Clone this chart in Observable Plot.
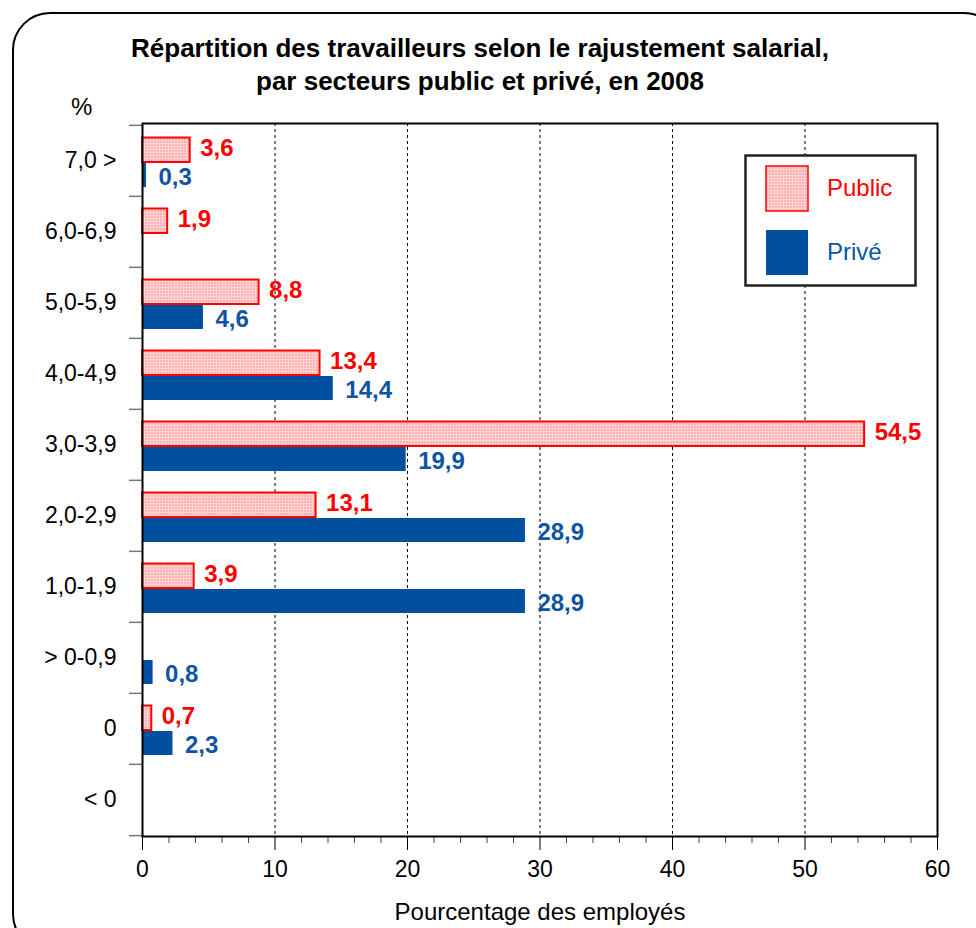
<!DOCTYPE html>
<html><head><meta charset="utf-8">
<script src="https://cdn.jsdelivr.net/npm/d3@7"></script>
<script src="https://cdn.jsdelivr.net/npm/@observablehq/plot@0.6"></script>
<style>
body{margin:0;background:#fff;font-family:"Liberation Sans",Arial,sans-serif;}
#wrap{position:relative;width:976px;height:928px;overflow:hidden;background:#fff;}
#header{position:relative;height:116px;}
#title{position:absolute;left:0;width:960px;top:32px;text-align:center;font-weight:bold;font-size:26px;line-height:33px;color:#000;}
#pct{position:absolute;left:71px;top:93px;font-size:24px;color:#000;}
#border{position:absolute;left:12px;top:12px;width:990px;height:940px;border:2px solid #000;border-radius:38px;pointer-events:none;box-sizing:border-box;}
#legend{position:absolute;left:744px;top:154px;}
#chart svg{display:block;}
</style>
</head><body>
<div id="wrap">
  <div id="header"><div id="title"></div><div id="pct"></div></div>
  <div id="chart"></div>
  <div id="legend"></div>
  <div id="border"></div>
</div>
<script>
const titleLines = ["Répartition des travailleurs selon le rajustement salarial,", "par secteurs public et privé, en 2008"];
const yUnit = "%";
const xLabel = "Pourcentage des employés";
const categories = ["7,0 >", "6,0-6,9", "5,0-5,9", "4,0-4,9", "3,0-3,9", "2,0-2,9", "1,0-1,9", "> 0-0,9", "0", "< 0"];
const publicValues = [3.6, 1.9, 8.8, 13.4, 54.5, 13.1, 3.9, null, 0.7, null];
const priveValues = [0.3, null, 4.6, 14.4, 19.9, 28.9, 28.9, 0.8, 2.3, null];
const seriesNames = ["Public", "Privé"];
const xTicks = [0, 10, 20, 30, 40, 50, 60];
const xMinorTicks = [2, 4, 6, 8, 12, 14, 16, 18, 22, 24, 26, 28, 32, 34, 36, 38, 42, 44, 46, 48, 52, 54, 56, 58];
const gridTicks = [10, 20, 30, 40, 50];

const RED = "#ff0000";
const BLUE = "#00509f";
const BLUE_TEXT = "#0d55a3";
const PUB_FILL = "url(#pubPat)";

document.getElementById("title").innerHTML = titleLines.join("<br>");
document.getElementById("pct").textContent = yUnit;

const fmt = v => String(v).replace(".", ",");
const publicData = categories.map((c, i) => ({cat: c, value: publicValues[i]})).filter(d => d.value != null);
const priveData = categories.map((c, i) => ({cat: c, value: priveValues[i]})).filter(d => d.value != null);

const W = 976, H = 812, mT = 7, mB = 92, mL = 142, mR = 39;
const band = (H - mT - mB) / categories.length;

const svg = Plot.plot({
  width: W, height: H,
  marginTop: mT, marginBottom: mB, marginLeft: mL, marginRight: mR,
  style: {background: "transparent", color: "#000", fontFamily: "Liberation Sans, Arial, sans-serif"},
  x: {domain: [0, 60]},
  y: {domain: categories, padding: 0},
  marks: [
    Plot.ruleX(gridTicks, {stroke: "#000", strokeWidth: 1, strokeDasharray: "3,3"}),
    Plot.barX(publicData, {x: "value", y: "cat", fill: PUB_FILL, stroke: RED, strokeWidth: 2, insetTop: 12.5, insetBottom: 34}),
    Plot.barX(priveData, {x: "value", y: "cat", fill: BLUE, insetTop: 38, insetBottom: 9}),
    Plot.text(publicData, {x: "value", y: "cat", text: d => fmt(d.value), textAnchor: "start", dx: 10, dy: -13, fill: RED, fontWeight: "bold", fontSize: 24}),
    Plot.text(priveData, {x: "value", y: "cat", text: d => fmt(d.value), textAnchor: "start", dx: 12, dy: 16, fill: BLUE_TEXT, fontWeight: "bold", fontSize: 24}),
    Plot.ruleY(categories, {y: d => d, x1: 0, x2: 0, insetLeft: -13, dy: -band / 2, stroke: "#777", strokeWidth: 1.5}),
    Plot.ruleY([categories[categories.length - 1]], {y: d => d, x1: 0, x2: 0, insetLeft: -13, dy: band / 2, stroke: "#777", strokeWidth: 1.5}),
    Plot.axisY({tickSize: 0, tickPadding: 26, fontSize: 23, label: null}),
    Plot.axisX({ticks: xTicks, tickSize: 14, tickPadding: 10, fontSize: 23, label: null, stroke: "#000"}),
    Plot.axisX({ticks: xMinorTicks, tickSize: 7, tickFormat: () => "", label: null, stroke: "#444"}),
    Plot.text([xLabel], {frameAnchor: "bottom", dy: 76, lineAnchor: "middle", fontSize: 24, fill: "#000"}),
    Plot.frame({stroke: "#000", strokeWidth: 2})
  ]
});

const ns = "http://www.w3.org/2000/svg";
const defs = document.createElementNS(ns, "defs");
defs.innerHTML = '<pattern id="pubPat" width="3" height="3" patternUnits="userSpaceOnUse"><rect width="3" height="3" fill="#ffb0b0"/><rect width="3" height="1" fill="#ffd4d4"/><rect width="1" height="3" fill="#ffd4d4"/></pattern>';
svg.insertBefore(defs, svg.firstChild);
document.getElementById("chart").appendChild(svg);

// Legend
const legendColors = [{fill: PUB_FILL, stroke: RED, text: RED}, {fill: BLUE, stroke: "none", text: BLUE_TEXT}];
const lg = d3.select("#legend").append("svg").attr("width", 174).attr("height", 134);
lg.append("rect").attr("x", 1.5).attr("y", 1.5).attr("width", 170).attr("height", 130).attr("fill", "#fff").attr("stroke", "#222").attr("stroke-width", 2.5);
seriesNames.forEach((name, i) => {
  const y0 = 12 + i * 64;
  lg.append("rect").attr("x", 22).attr("y", y0).attr("width", 42).attr("height", 45)
    .attr("fill", legendColors[i].fill).attr("stroke", legendColors[i].stroke).attr("stroke-width", 1.5);
  lg.append("text").attr("x", 83).attr("y", y0 + 22).attr("dy", "0.35em")
    .attr("font-size", 24).attr("fill", legendColors[i].text)
    .attr("font-family", "Liberation Sans, Arial, sans-serif").text(name);
});
</script>
</body></html>
